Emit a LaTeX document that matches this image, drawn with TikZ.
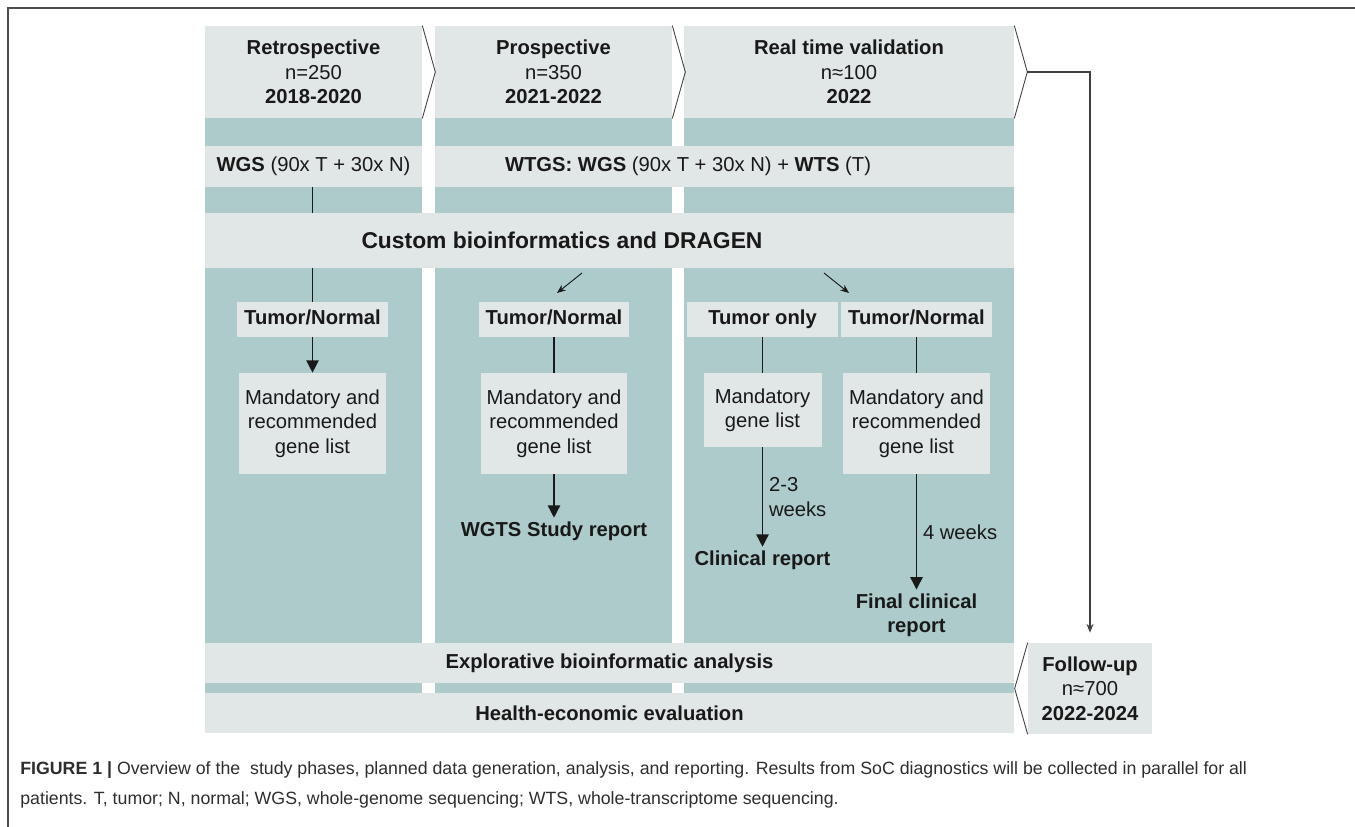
\documentclass[tikz,border=0pt]{standalone}
\usepackage{fontspec}
\setmainfont{Liberation Sans}
\usepackage{xcolor}
\usetikzlibrary{arrows.meta,positioning}

\definecolor{panelgray}{RGB}{225,230,231}
\definecolor{laneteal}{RGB}{172,203,202}
\definecolor{inkgray}{RGB}{25,25,25}
\definecolor{captiongray}{RGB}{45,45,45}

\newcommand\boxfont{\fontsize{11.5}{13.9}\selectfont}
\newcommand\bigfont{\fontsize{13}{15}\selectfont}
\newcommand\captionfont{\fontsize{10.1}{12}\selectfont}

\tikzset{
    headbox/.style={fill=panelgray, inner sep=0pt, minimum height=1.84cm, align=center},
    bandbox/.style={fill=panelgray, inner sep=0pt},
    modebox/.style={fill=panelgray, inner sep=0pt, minimum width=3.02cm, minimum height=0.70cm, text height=8.3pt, text depth=2.4pt, font=\boxfont\bfseries},
    listbox/.style={fill=panelgray, inner sep=0pt, minimum width=2.94cm, minimum height=2.02cm, align=center},
    reporttext/.style={inner sep=2pt, font=\boxfont\bfseries, align=center},
    chevron/.style={draw=black!75, line width=0.5pt},
    flowline/.style={draw=inkgray, line width=0.8pt},
    flowarrow/.style={flowline, -{Triangle[width=7pt,length=7pt]}},
    splitarrow/.style={draw=inkgray, line width=0.5pt, -{Stealth[width=4pt,length=5pt]}},
    followline/.style={draw=black!75, line width=0.6pt, -{Stealth[width=4pt,length=5pt]}, shorten >=0.2cm}
}

\begin{document}
\begin{tikzpicture}[x=0.02cm, y=-0.02cm, font=\boxfont, text=inkgray]
    \useasboundingbox (0,0) rectangle (1355,827);
    \draw[line width=1.2pt, draw=black!70] (8,827) -- (8,8) -- (1355,8); % frame

    % lanes
    \fill[laneteal] (205,118) rectangle (422,733);
    \fill[laneteal] (435,118) rectangle (672,733);
    \fill[laneteal] (684,118) rectangle (1014,733);

    % phase headers
    \node[headbox, minimum width=4.34cm] (retro) at (313.5,72) {\textbf{Retrospective}\\n=250\\\textbf{2018-2020}};
    \node[headbox, minimum width=4.74cm] (prosp) at (553.5,72) {\textbf{Prospective}\\n=350\\\textbf{2021-2022}};
    \node[headbox, minimum width=6.60cm] (realtime) at (849,72) {\textbf{Real time validation}\\n≈100\\\textbf{2022}};
    \draw[chevron] (retro.north east) -- ([xshift=0.26cm]retro.east) -- (retro.south east);
    \draw[chevron] (prosp.north east) -- ([xshift=0.26cm]prosp.east) -- (prosp.south east);
    \draw[chevron] (realtime.north east) -- ([xshift=0.26cm]realtime.east) coordinate (realtip) -- (realtime.south east);

    % sequencing rows
    \node[bandbox, minimum width=4.34cm, minimum height=0.82cm] (wgs) at (313.5,166.5) {\textbf{WGS} (90x T + 30x N)};
    \node[bandbox, minimum width=11.58cm, minimum height=0.82cm] (wtgs) at (724.5,166.5) {};
    \node (wtgslabel) at (688,166.5) {\textbf{WTGS: WGS} (90x T + 30x N) + \textbf{WTS} (T)};

    % shared analysis bands
    \node[bandbox, minimum width=16.18cm, minimum height=1.10cm] (custom) at (609.5,240.5) {};
    \node[font=\bigfont\bfseries] (customlabel) at (562,240.5) {Custom bioinformatics and DRAGEN};
    \node[bandbox, minimum width=16.18cm, minimum height=0.80cm, font=\boxfont\bfseries] (explore) at (609.5,663) {Explorative bioinformatic analysis};
    \node[bandbox, minimum width=16.18cm, minimum height=0.80cm, font=\boxfont\bfseries] (health) at (609.5,713) {Health-economic evaluation};

    % follow-up
    \node[headbox, minimum width=2.48cm, minimum height=1.82cm] (followup) at (1090,688.5) {\textbf{Follow-up}\\n≈700\\\textbf{2022-2024}};
    \draw[chevron] (followup.north west) -- ([xshift=-0.26cm]followup.west) -- (followup.south west);
    \draw[followline] (realtip) -| (followup.north);

    % retrospective lane
    \node[modebox] (tn1) at (312.5,319.5) {Tumor/Normal};
    \node[listbox] (list1) at (312.5,423.5) {Mandatory and\\recommended\\gene list};
    \draw[flowline] (wgs.south -| tn1.north) -- (custom.north -| tn1.north);
    \draw[flowline] (custom.south -| tn1.north) -- (tn1.north);
    \draw[flowarrow] (tn1) -- (list1);

    % prospective lane
    \node[modebox] (tn2) at (554,319.5) {Tumor/Normal};
    \node[listbox] (list2) at (554,423.5) {Mandatory and\\recommended\\gene list};
    \node[reporttext] (report2) at (554,531) {WGTS Study report};
    \draw[flowline] (tn2) -- (list2);
    \draw[flowarrow] (list2) -- (report2);

    % real time lane
    \node[modebox] (to3) at (762.5,319.5) {Tumor only};
    \node[modebox] (tn3) at (916.5,319.5) {Tumor/Normal};
    \node[listbox, minimum width=2.36cm, minimum height=1.48cm] (list3a) at (762.5,410) {Mandatory\\gene list};
    \node[listbox] (list3b) at (916.5,423.5) {Mandatory and\\recommended\\gene list};
    \node[reporttext] (report3a) at (762.5,560) {Clinical report};
    \node[reporttext] (report3b) at (916.5,615) {Final clinical\\report};
    \draw[flowline] (to3) -- (list3a);
    \draw[flowline] (tn3) -- (list3b);
    \draw[flowarrow] (list3a) -- node[right, align=left] {2-3\\weeks} (report3a);
    \draw[flowarrow] (list3b) -- node[right] {4 weeks} (report3b);

    % split arrows below the bioinformatics band
    \coordinate (splitL) at (582,273);
    \coordinate (splitLend) at (557,293);
    \coordinate (splitR) at (824,273);
    \coordinate (splitRend) at (849,293);
    \draw[splitarrow] (splitL) -- (splitLend);
    \draw[splitarrow] (splitR) -- (splitRend);

    % caption
    \node[anchor=west, inner sep=0pt, font=\captionfont, text=captiongray] (caption1) at (20,770) {\textbf{FIGURE 1 |} Overview of the~ study phases, planned data generation, analysis, and reporting. Results from SoC diagnostics will be collected in parallel for all};
    \node[anchor=west, inner sep=0pt, font=\captionfont, text=captiongray] (caption2) at (20,800) {patients. T, tumor; N, normal; WGS, whole-genome sequencing; WTS, whole-transcriptome sequencing.};
\end{tikzpicture}
\end{document}
